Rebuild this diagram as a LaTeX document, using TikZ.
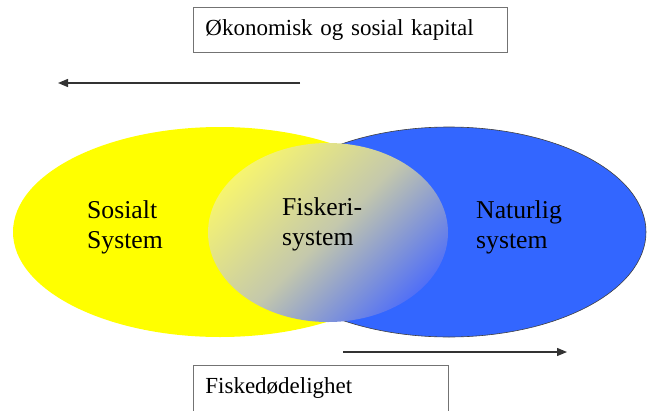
\documentclass[tikz,border=0pt]{standalone}
\usepackage{fontspec}
\setmainfont{Liberation Serif}
\usepackage{xcolor}
\usetikzlibrary{shapes.geometric,arrows.meta}

\definecolor{socyellow}{RGB}{255,255,0}
\definecolor{natblue}{RGB}{51,102,255}
\definecolor{fishtop}{RGB}{246,244,112}
\definecolor{fishmid}{RGB}{196,200,172}
\definecolor{fishbot}{RGB}{82,112,246}

\begin{document}
\begin{tikzpicture}[x=1pt, y=-1pt,
    sys/.style={ellipse, inner sep=0pt},
    lbl/.style={anchor=north west, inner sep=0pt, align=left, font=\fontsize{25.7}{30}\selectfont},
    capbox/.style={draw=black!55, line width=0.8pt, anchor=north west, inner xsep=12pt, inner ysep=12pt, align=left, font=\fontsize{23}{27}\selectfont},
    flow/.style={line width=1.3pt, draw=black!80, -{Triangle[length=10pt, width=8pt]}}]
  \useasboundingbox (0, 0) rectangle (648, 410);

  % Ellipses
  \node[sys, fill=socyellow, minimum width=414pt, minimum height=210pt] (soc) at (220, 232) {};
  \node[sys, fill=natblue, draw=black!75, line width=0.6pt, minimum width=394pt, minimum height=210pt] (nat) at (449, 232) {};
  \node[sys, top color=fishtop, bottom color=fishbot, middle color=fishmid, shading angle=45, minimum width=240pt, minimum height=179pt] (fish) at (328, 232.5) {};

  % Labels
  \node[lbl] (socl) at (87, 200) {Sosialt\\System};
  \node[lbl] (fishl) at (282, 197) {Fiskeri-\\system};
  \node[lbl] (natl) at (476, 200) {Naturlig\\system};

  % Boxes
  \node[capbox, text width=290pt] (capital) at (193, 7) {Økonomisk og sosial kapital};
  \node[capbox, text width=231pt, text depth=12pt] (mortality) at (193, 365) {Fiskedødelighet};

  % Arrows
  \coordinate (capR) at (300, 83);
  \coordinate (capL) at (58, 83);
  \coordinate (mortL) at (343, 352);
  \coordinate (mortR) at (567, 352);
  \draw[flow] (capR) -- (capL);
  \draw[flow] (mortL) -- (mortR);
\end{tikzpicture}
\end{document}
